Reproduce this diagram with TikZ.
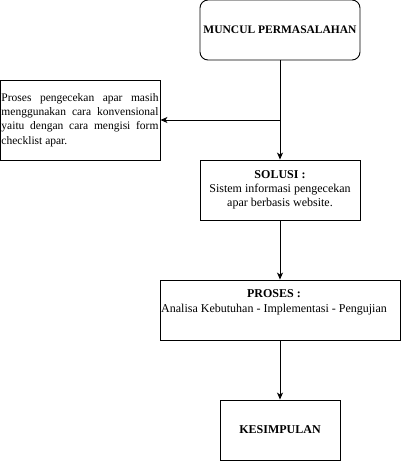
\documentclass[tikz,border=0pt]{standalone}
\usepackage{fontspec}
\setmainfont{Liberation Serif}
\usetikzlibrary{arrows.meta}
\begin{document}
\begin{tikzpicture}[x=1pt,y=-1pt,
  box/.style={draw,line width=0.9pt,inner sep=1pt,align=center,font=\fontsize{12}{14}\selectfont},
  txt/.style={inner sep=0pt,align=center,font=\fontsize{12}{15}\selectfont},
  arr/.style={line width=0.9pt,-{Stealth[length=7pt,width=6pt,inset=2pt]}}]
\useasboundingbox (0,0) rectangle (401,461);
\node[box,rounded corners=8pt,minimum width=160pt,minimum height=60pt,font=\fontsize{11.5}{14}\selectfont\bfseries] (top) at (280,30) {MUNCUL PERMASALAHAN};
\node[box,minimum width=160pt,minimum height=80pt] (left) at (80,120) {\parbox{157pt}{\fontsize{11.5}{14.3}\selectfont Proses pengecekan apar masih menggunakan cara konvensional yaitu dengan cara mengisi form checklist apar.}};
\node[box,minimum width=160pt,minimum height=60pt] (sol) at (280,190) {\textbf{SOLUSI :}\\Sistem informasi pengecekan\\apar berbasis website.};
\node[box,minimum width=240pt,minimum height=60pt] (pro) at (280,310) {};
\node[txt] (protext) at (274,302) {\textbf{PROSES :}\\Analisa Kebutuhan - Implementasi - Pengujian};
\node[box,minimum width=120pt,minimum height=60pt,font=\fontsize{12}{14}\selectfont\bfseries] (kes) at (280,430) {KESIMPULAN};
\coordinate (br) at (top.south |- left.east);
\draw[arr] (top) -- (sol);
\draw[arr] (br) -- (left.east);
\draw[arr] (sol) -- (pro);
\draw[arr] (pro) -- (kes);
\end{tikzpicture}
\end{document}
